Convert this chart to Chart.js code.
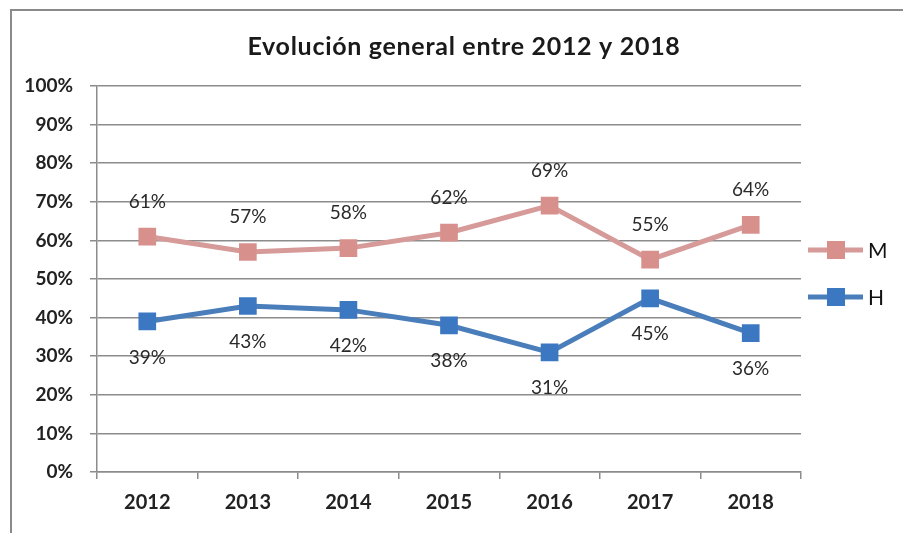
<!DOCTYPE html>
<html>
<head>
<meta charset="utf-8">
<title>Evolución general entre 2012 y 2018</title>
<script src="https://cdn.jsdelivr.net/npm/chart.js"></script>
<style>
  html, body { margin: 0; padding: 0; background: #fff; }
  #wrap { position: relative; width: 903px; height: 533px; overflow: hidden; }
  #marco { position: absolute; left: 10px; top: 9px; width: 1000px; height: 1000px;
           border-left: 2px solid #8a8a8a; border-top: 2px solid #8a8a8a; }
  canvas { position: absolute; left: 0; top: 0; }
</style>
</head>
<body>
<div id="wrap">
  <div id="marco"></div>
  <canvas id="grafico" width="903" height="533"></canvas>
</div>
<script>
// datos
const titulo = 'Evolución general entre 2012 y 2018';
const anios = ['2012', '2013', '2014', '2015', '2016', '2017', '2018'];
const valoresM = [61, 57, 58, 62, 69, 55, 64];
const valoresH = [39, 43, 42, 38, 31, 45, 36];
const ticksY = [0, 10, 20, 30, 40, 50, 60, 70, 80, 90, 100];

const colorM = '#d69a98', puntoM = '#d8908c';
const colorH = '#4a7ebb', puntoH = '#3c78c2';

// titulo centrado sobre todo el recuadro (no solo sobre el area del grafico)
const tituloPlugin = {
  id: 'titulo',
  afterDraw(chart) {
    const ctx = chart.ctx;
    ctx.save();
    ctx.font = 'bold 25px Lato';
    ctx.letterSpacing = '0.7px';
    ctx.fillStyle = '#1a1a1a';
    ctx.textAlign = 'center';
    ctx.textBaseline = 'middle';
    ctx.fillText(titulo, 464, 47);
    ctx.restore();
  }
};

// etiquetas de valor encima (M) y debajo (H) de cada punto
const etiquetasPlugin = {
  id: 'etiquetas',
  afterDatasetsDraw(chart) {
    const ctx = chart.ctx;
    ctx.save();
    ctx.font = '19px Lato';
    ctx.fillStyle = '#2a2a2a';
    ctx.textAlign = 'center';
    ctx.textBaseline = 'middle';
    chart.data.datasets.forEach((ds, i) => {
      const meta = chart.getDatasetMeta(i);
      const dy = ds.label === 'M' ? -35 : 36;
      meta.data.forEach((p, j) => {
        ctx.fillText(ds.data[j] + '%', p.x, p.y + dy);
      });
    });
    ctx.restore();
  }
};

// leyenda a la derecha, como en Excel
const leyendaPlugin = {
  id: 'leyendaDerecha',
  afterDraw(chart) {
    const ctx = chart.ctx;
    const area = chart.chartArea;
    const filas = [164, 211];
    ctx.save();
    chart.data.datasets.forEach((ds, i) => {
      const y = area.top + filas[i];
      const x0 = area.right + 7;
      ctx.strokeStyle = ds.borderColor;
      ctx.lineWidth = 5;
      ctx.beginPath();
      ctx.moveTo(x0, y);
      ctx.lineTo(x0 + 55, y);
      ctx.stroke();
      ctx.fillStyle = ds.pointBackgroundColor;
      ctx.fillRect(x0 + 28 - 9, y - 9, 18, 18);
      ctx.fillStyle = '#111';
      ctx.font = '21px Lato';
      ctx.textAlign = 'left';
      ctx.textBaseline = 'middle';
      ctx.fillText(ds.label, x0 + 60, y + 1);
    });
    ctx.restore();
  }
};

new Chart(document.getElementById('grafico'), {
  type: 'line',
  data: {
    labels: anios,
    datasets: [
      {
        label: 'M',
        data: valoresM,
        borderColor: colorM,
        borderWidth: 5,
        pointStyle: 'rect',
        pointRadius: 12.5,
        pointHoverRadius: 12.5,
        pointBackgroundColor: puntoM,
        pointBorderColor: puntoM,
        pointBorderWidth: 0,
        tension: 0
      },
      {
        label: 'H',
        data: valoresH,
        borderColor: colorH,
        borderWidth: 5,
        pointStyle: 'rect',
        pointRadius: 12.5,
        pointHoverRadius: 12.5,
        pointBackgroundColor: puntoH,
        pointBorderColor: puntoH,
        pointBorderWidth: 0,
        tension: 0
      }
    ]
  },
  options: {
    responsive: false,
    animation: false,
    layout: { padding: { top: 86, right: 102, bottom: 0, left: 0 } },
    plugins: {
      legend: { display: false },
      tooltip: { enabled: false },
      title: { display: false }
    },
    scales: {
      x: {
        offset: true,
        grid: { display: true, drawOnChartArea: false, offset: true, tickLength: 7,
                color: '#8c8c8c', lineWidth: 1.5 },
        border: { color: '#8c8c8c', width: 1.5 },
        ticks: { color: '#222', padding: 12, maxRotation: 0,
                 font: { family: 'Lato', size: 20, weight: 'bold' } },
        afterFit(scale) { scale.height = 61; }
      },
      y: {
        min: 0,
        max: 100,
        afterBuildTicks(scale) { scale.ticks = ticksY.map(v => ({ value: v })); },
        grid: { color: '#8c8c8c', lineWidth: 1.5, tickLength: 7 },
        border: { color: '#8c8c8c', width: 1.5 },
        ticks: { color: '#222', padding: 17,
                 font: { family: 'Lato', size: 19, weight: 'bold' },
                 callback: v => v + '%' },
        afterFit(scale) { scale.width = 97; }
      }
    }
  },
  plugins: [etiquetasPlugin, leyendaPlugin, tituloPlugin]
});
</script>
</body>
</html>
